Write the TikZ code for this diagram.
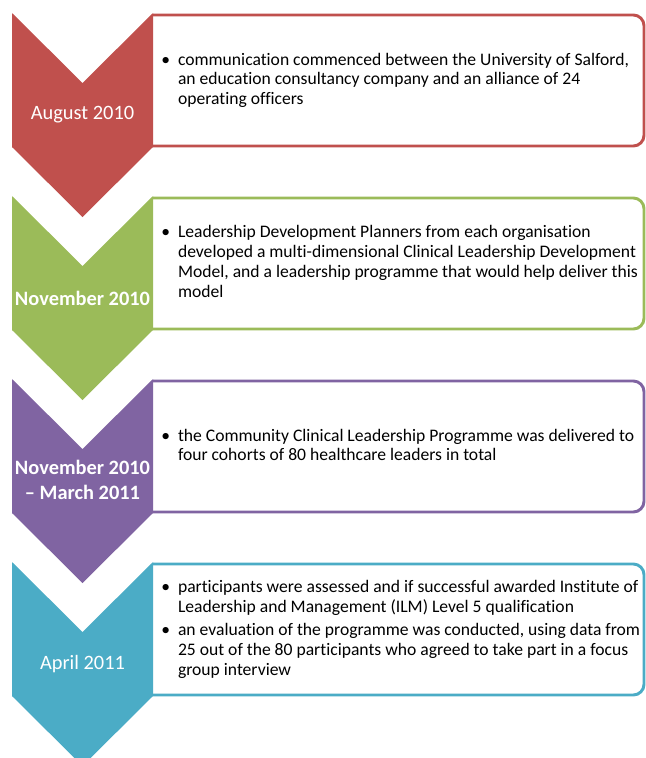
\documentclass[tikz,border=0pt]{standalone}
\usepackage{fontspec}
\setmainfont[Ligatures=NoCommon]{Carlito}
\usepackage{tikz}
\definecolor{augred}{HTML}{C0504D}
\definecolor{novgreen}{HTML}{9BBB59}
\definecolor{marpurple}{HTML}{8064A2}
\definecolor{aprblue}{HTML}{4BACC6}

\begin{document}
\begin{tikzpicture}[x=0.75pt, y=-0.75pt]
	\tikzset{chevron/.style={fill=#1, draw=none}}
	\tikzset{frame/.style={draw=#1, fill=white, line width=2.2pt, rounded corners=8pt}}
	\tikzset{date/.style={text=white, font=\fontsize{15.3}{18.5}\selectfont, align=center}}
	\tikzset{info/.style={anchor=west, inner sep=0pt, font=\fontsize{13.2}{14.9}\selectfont}}
	\useasboundingbox (0,0) rectangle (646,758);
	%frames
	\draw[frame=augred] (153,15) -- (644,15) -- (644,146) -- (153,146);
	\draw[frame=novgreen] (153,198) -- (644,198) -- (644,329) -- (153,329);
	\draw[frame=marpurple] (153,381) -- (644,381) -- (644,512) -- (153,512);
	\draw[frame=aprblue] (153,564) -- (644,564) -- (644,695) -- (153,695);
	%chevrons
	\fill[chevron=augred] (12,13) -- (82.5,83) -- (153,13) -- (153,147) -- (82.5,217) -- (12,147) -- cycle;
	\fill[chevron=novgreen] (12,196) -- (82.5,266) -- (153,196) -- (153,330) -- (82.5,400) -- (12,330) -- cycle;
	\fill[chevron=marpurple] (12,379) -- (82.5,449) -- (153,379) -- (153,513) -- (82.5,583) -- (12,513) -- cycle;
	\fill[chevron=aprblue] (12,562) -- (82.5,632) -- (153,562) -- (153,696) -- (82.5,766) -- (12,696) -- cycle;
	%dates
	\node[date] (aug) at (82.5,115) {August 2010};
	\node[date] (nov) at (82.5,298) {\bfseries November 2010};
	\node[date] (novmar) at (82.5,480) {\bfseries November 2010\\\bfseries -- March 2011};
	\node[date] (apr) at (82.5,664) {April 2011};
	%texts
	\node[info] (augtxt) at (161,81) {\begin{tabular}{@{}l@{\hspace{6pt}}l@{}}
		\textbullet & communication commenced between the University of Salford,\\
		& an education consultancy company and an alliance of 24\\
		& operating officers
	\end{tabular}};
	\node[info] (novtxt) at (161,263.5) {\begin{tabular}{@{}l@{\hspace{6pt}}l@{}}
		\textbullet & Leadership Development Planners from each organisation\\
		& developed a multi-dimensional Clinical Leadership Development\\
		& Model, and a leadership programme that would help deliver this\\
		& model
	\end{tabular}};
	\node[info] (novmartxt) at (161,447) {\begin{tabular}{@{}l@{\hspace{6pt}}l@{}}
		\textbullet & the Community Clinical Leadership Programme was delivered to\\
		& four cohorts of 80 healthcare leaders in total
	\end{tabular}};
	\node[info] (aprtxt) at (161,630) {\begin{tabular}{@{}l@{\hspace{6pt}}l@{}}
		\textbullet & participants were assessed and if successful awarded Institute of\\
		& Leadership and Management (ILM) Level 5 qualification\\[2pt]
		\textbullet & an evaluation of the programme was conducted, using data from\\
		& 25 out of the 80 participants who agreed to take part in a focus\\
		& group interview
	\end{tabular}};
\end{tikzpicture}
\end{document}
